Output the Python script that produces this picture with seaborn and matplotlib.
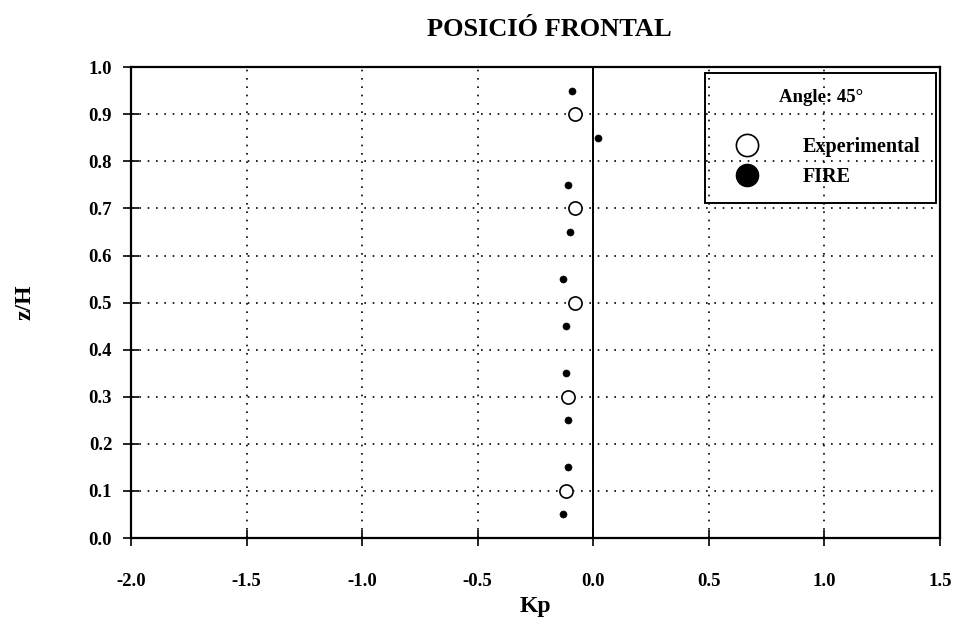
import matplotlib
matplotlib.use("Agg")
import matplotlib.pyplot as plt
from matplotlib.lines import Line2D
import seaborn as sns
import pandas as pd

# Pressure coefficient profile along the front face, wind angle 45°
exp_z = [0.1, 0.3, 0.5, 0.7, 0.9]
exp_kp = [-0.12, -0.11, -0.08, -0.08, -0.08]

fire_z = [0.05, 0.15, 0.25, 0.35, 0.45, 0.55, 0.65, 0.75, 0.85, 0.95]
fire_kp = [-0.13, -0.11, -0.11, -0.12, -0.12, -0.13, -0.10, -0.11, 0.02, -0.09]

x_ticks = [-2.0, -1.5, -1.0, -0.5, 0.0, 0.5, 1.0, 1.5]
y_ticks = [0.0, 0.1, 0.2, 0.3, 0.4, 0.5, 0.6, 0.7, 0.8, 0.9, 1.0]

sns.set_theme(style="ticks", rc={
    "text.color": "black",
    "axes.labelcolor": "black",
    "xtick.color": "black",
    "ytick.color": "black",
    "axes.edgecolor": "black",
})
plt.rcParams["font.family"] = ["Liberation Serif", "DejaVu Serif"]
plt.rcParams["font.weight"] = "bold"

exp_df = pd.DataFrame({"Kp": exp_kp, "z/H": exp_z})
fire_df = pd.DataFrame({"Kp": fire_kp, "z/H": fire_z})

fig = plt.figure(figsize=(9.59, 6.22), dpi=100)
ax = fig.add_axes([0.1366, 0.135, 0.8436, 0.757])

ax.set_xlim(-2.0, 1.5)
ax.set_ylim(0.0, 1.0)
ax.set_xticks(x_ticks)
ax.set_yticks(y_ticks)
ax.set_xticklabels([f"{v:.1f}" for v in x_ticks])
ax.set_yticklabels([f"{v:.1f}" for v in y_ticks])

ax.grid(True, color="black", linestyle=(0, (1, 4)), linewidth=1.2)
ax.axvline(0.0, color="black", linewidth=1.4, zorder=2)

sns.scatterplot(data=exp_df, x="Kp", y="z/H", ax=ax, marker="o", s=90,
                facecolor="white", edgecolor="black", linewidth=1.2, zorder=3)
sns.scatterplot(data=fire_df, x="Kp", y="z/H", ax=ax, marker="o", s=26,
                color="black", edgecolor="black", zorder=4)

for side in ["left", "right", "top", "bottom"]:
    ax.spines[side].set_visible(True)
    ax.spines[side].set_color("black")
    ax.spines[side].set_linewidth(1.6)

ax.tick_params(axis="both", which="major", bottom=True, left=True,
               top=False, right=False, direction="inout", length=11,
               width=1.2, color="black", labelsize=13.5)
ax.tick_params(axis="x", pad=20)
ax.tick_params(axis="y", pad=8)
for lab in ax.get_xticklabels() + ax.get_yticklabels():
    lab.set_fontweight("bold")

ax.set_xlabel("Kp", fontsize=17, fontweight="bold", labelpad=4)
ax.set_ylabel("z/H", fontsize=17, fontweight="bold", labelpad=38)
fig.text(549 / 959, 1 - 29 / 622, "POSICIÓ FRONTAL", fontsize=19,
         fontweight="bold", ha="center", va="center")

handles = [
    Line2D([], [], linestyle="none", marker="o", markersize=16,
           markerfacecolor="white", markeredgecolor="black", markeredgewidth=1.2),
    Line2D([], [], linestyle="none", marker="o", markersize=16,
           markerfacecolor="black", markeredgecolor="black"),
]
leg = ax.legend(handles, ["Experimental", "FIRE"], title="Angle: 45°",
                loc="upper right", bbox_to_anchor=(0.9955, 0.987),
                frameon=True, fancybox=False, shadow=False,
                fontsize=14.5, title_fontsize=13.5,
                handletextpad=1.45, borderpad=0.8, labelspacing=0.5,
                handlelength=2.6, borderaxespad=0.0)
frame = leg.get_frame()
frame.set_facecolor("none")
frame.set_edgecolor("black")
frame.set_alpha(None)
frame.set_linewidth(1.4)
leg.get_title().set_fontweight("bold")
leg._legend_box.sep = 22
leg.set_zorder(5)

fig.savefig("out.png", dpi=100)
